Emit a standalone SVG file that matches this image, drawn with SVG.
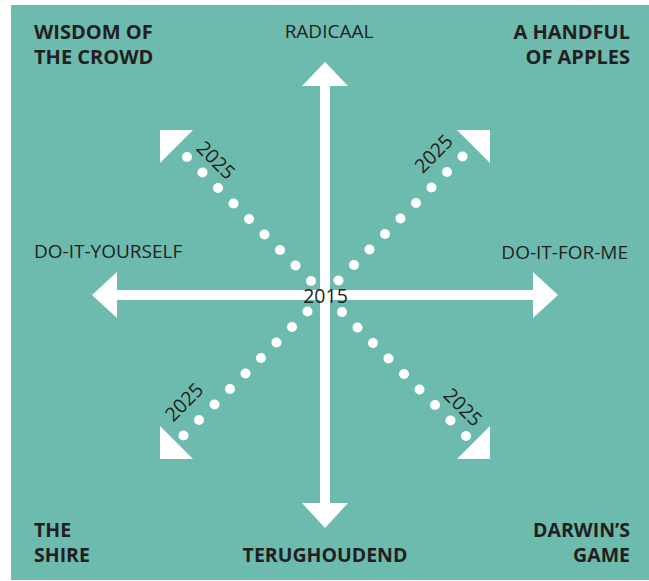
<svg xmlns="http://www.w3.org/2000/svg" width="649" height="581" viewBox="0 0 649 581">
<style>
.lbl{font-family:"Open Sans","Noto Sans","Liberation Sans",sans-serif;fill:#231f20;font-size:19px}
.b{font-weight:bold;font-size:20px}
.bb{font-weight:bold;font-size:19.5px}
.yr{font-family:"Open Sans","Noto Sans","Liberation Sans",sans-serif;fill:#231f20;font-size:19.5px;text-anchor:middle}
.w{fill:#fff}
</style>
<rect x="11" y="5" width="638" height="575" fill="#6dbaaf"/>
<g id="connectors">
  <g id="axis-vertical" class="w">
    <rect x="320" y="85" width="10" height="419"/>
    <polygon points="325,62 348,86 302,86"/>
    <polygon points="302,503 348,503 325,528"/>
  </g>
  <g id="axis-horizontal" class="w">
    <rect x="116" y="290" width="418" height="10"/>
    <polygon points="92,295 117,272 117,318"/>
    <polygon points="558,295 533,272 533,318"/>
  </g>
  <g id="diag-ul" class="w">
    <circle cx="187" cy="157" r="5"/><circle cx="202.5" cy="172.5" r="5"/><circle cx="218" cy="188" r="5"/>
    <circle cx="233.5" cy="203.5" r="5"/><circle cx="249" cy="219" r="5"/><circle cx="264.5" cy="234.5" r="5"/>
    <circle cx="280" cy="250" r="5"/><circle cx="295.5" cy="265.5" r="5"/><circle cx="311" cy="281" r="5"/>
    <polygon points="160,130 193,130 160,163"/>
  </g>
  <g id="diag-lr" class="w">
    <circle cx="342" cy="312" r="5"/><circle cx="357.5" cy="327.5" r="5"/><circle cx="373" cy="343" r="5"/>
    <circle cx="388.5" cy="358.5" r="5"/><circle cx="404" cy="374" r="5"/><circle cx="419.5" cy="389.5" r="5"/>
    <circle cx="435" cy="405" r="5"/><circle cx="450.5" cy="420.5" r="5"/><circle cx="466" cy="436" r="5"/>
    <polygon points="490,459 490,426 457,459"/>
  </g>
  <g id="diag-ur" class="w">
    <circle cx="338.5" cy="280.5" r="5"/><circle cx="354" cy="265" r="5"/><circle cx="369.5" cy="249.5" r="5"/>
    <circle cx="385" cy="234" r="5"/><circle cx="400.5" cy="218.5" r="5"/><circle cx="416" cy="203" r="5"/>
    <circle cx="431.5" cy="187.5" r="5"/><circle cx="447" cy="172" r="5"/><circle cx="462.5" cy="156.5" r="5"/>
    <polygon points="490,130 457,130 490,163"/>
  </g>
  <g id="diag-ll" class="w">
    <circle cx="307.5" cy="311.5" r="5"/><circle cx="292" cy="327" r="5"/><circle cx="276.5" cy="342.5" r="5"/>
    <circle cx="261" cy="358" r="5"/><circle cx="245.5" cy="373.5" r="5"/><circle cx="230" cy="389" r="5"/>
    <circle cx="214.5" cy="404.5" r="5"/><circle cx="199" cy="420" r="5"/><circle cx="183.5" cy="435.5" r="5"/>
    <polygon points="160,459 160,426 193,459"/>
  </g>
</g>
<g id="year-2015"><text class="yr" x="325.5" y="303">2015</text></g>
<g id="year-ul"><text class="yr" transform="translate(216,160) rotate(45)" y="7">2025</text></g>
<g id="year-ur"><text class="yr" transform="translate(433.5,153.5) rotate(-45)" y="7">2025</text></g>
<g id="year-ll"><text class="yr" transform="translate(184,402) rotate(-45)" y="7">2025</text></g>
<g id="year-lr"><text class="yr" transform="translate(463,407) rotate(45)" y="7">2025</text></g>
<g id="wisdom"><text class="lbl b" x="34" y="39">WISDOM OF</text><text class="lbl b" x="34" y="64">THE CROWD</text></g>
<g id="handful"><text class="lbl b" x="630" y="39" text-anchor="end">A HANDFUL</text><text class="lbl b" x="630" y="64" text-anchor="end">OF APPLES</text></g>
<g id="radicaal"><text class="lbl" x="329" y="38" text-anchor="middle">RADICAAL</text></g>
<g id="diy"><text class="lbl" x="34" y="258">DO-IT-YOURSELF</text></g>
<g id="difm"><text class="lbl" x="628" y="259" text-anchor="end">DO-IT-FOR-ME</text></g>
<g id="shire"><text class="lbl bb" x="34" y="537">THE</text><text class="lbl bb" x="34" y="562">SHIRE</text></g>
<g id="terughoudend"><text class="lbl bb" x="325" y="562" text-anchor="middle">TERUGHOUDEND</text></g>
<g id="darwin"><text class="lbl bb" x="630" y="537" text-anchor="end">DARWIN’S</text><text class="lbl bb" x="630" y="562" text-anchor="end">GAME</text></g>
</svg>
